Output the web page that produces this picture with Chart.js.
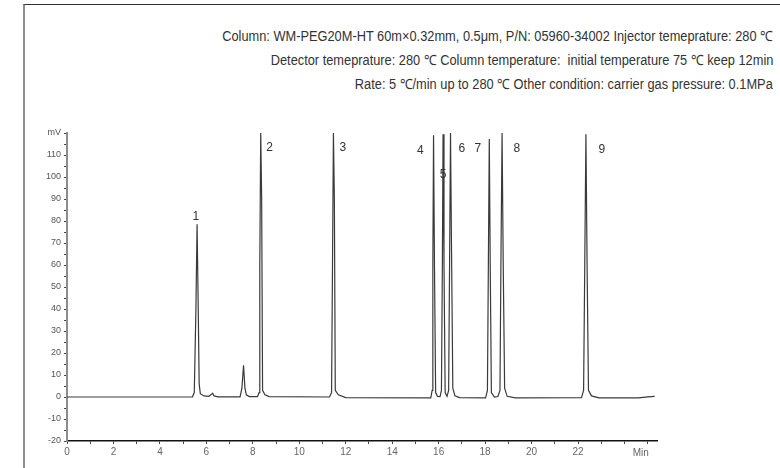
<!DOCTYPE html>
<html>
<head>
<meta charset="utf-8">
<script src="https://cdn.jsdelivr.net/npm/chart.js@4.4.1/dist/chart.umd.min.js"></script>
<style>
  html, body { margin: 0; padding: 0; background: #fff; }
  body { width: 780px; height: 468px; position: relative; overflow: hidden; }
  #frame {
    position: absolute; left: 23px; top: 4px; width: 800px; height: 500px;
    border-left: 2px solid #8c8c8c; border-top: 1px solid #333;
  }
  .cond {
    position: absolute; right: 7px; font-family: 'Liberation Sans', Arial, sans-serif;
    font-size: 14px; color: #333; white-space: nowrap; line-height: 16px;
    transform: scaleX(0.915); transform-origin: right center;
  }
  #wrap { position: absolute; left: 0; top: 0; width: 780px; height: 468px; }
</style>
</head>
<body>
<div id="frame"></div>
<div class="cond" style="top:28px">Column: WM-PEG20M-HT 60m×0.32mm, 0.5μm, P/N: 05960-34002 Injector temeprature: 280 ℃</div>
<div class="cond" style="top:52px">Detector temeprature: 280 ℃ Column temperature:&nbsp; initial temperature 75 ℃ keep 12min</div>
<div class="cond" style="top:76px">Rate: 5 ℃/min up to 280 ℃ Other condition: carrier gas pressure: 0.1MPa</div>
<div id="wrap"><canvas id="myChart" width="780" height="468"></canvas></div>
<script>
'use strict';

////// DATA //////
// retention time, min
let times = [
  0, 5.40, 5.48, 5.55, 5.60, 5.65, 5.69, 5.74, 5.90, 6.10, 6.22, 6.27, 6.33, 6.50,
  7.45, 7.53, 7.60, 7.66, 7.72, 7.85, 8.20,
  8.27, 8.30, 8.34, 8.38, 8.42, 8.52, 8.70,
  11.30, 11.39, 11.43, 11.47, 11.51, 11.55, 11.68, 12.00,
  15.66, 15.72, 15.75, 15.78, 15.82, 15.87, 15.95, 16.06,
  16.12, 16.16, 16.19, 16.23, 16.28, 16.36,
  16.43, 16.47, 16.51, 16.56, 16.61, 16.70, 16.90,
  18.02, 18.10, 18.14, 18.18, 18.22, 18.27, 18.40, 18.55,
  18.64, 18.68, 18.73, 18.78, 18.84, 18.95, 19.30,
  22.15, 22.24, 22.29, 22.34, 22.39, 22.45, 22.58, 22.90,
  24.60, 25.00, 25.30
];
// detector signal, mV
let signal = [
  0, 0.1, 2, 40, 78.5, 40, 6, 1.5, 0.5, 0.3, 1.2, 1.7, 0.5, 0.1,
  0.1, 4, 14.4, 4, 1, 0.2, 0.2,
  2, 60, 120, 90, 3, 1, 0.2,
  0, 2, 60, 120, 90, 3, 1, -0.3,
  -0.4, 3, 60, 119, 60, 2, 0.3, 0.2,
  3, 60, 119.4, 60, 2, 0.3,
  3, 60, 120, 60, 4, 0.5, -0.3,
  -0.4, 3, 60, 117.3, 60, 2, 0, 0.2,
  3, 60, 120, 60, 4, 0.3, -0.4,
  -0.3, 3, 60, 119.4, 60, 3, 0.5, -0.4,
  -0.4, 0.1, 0.3
];

// peak numbers and where they sit (min, mV)
let peakNames = ['1', '2', '3', '4', '5', '6', '7', '8', '9'];
let peakLabelX = [5.55, 8.72, 11.88, 15.21, 16.19, 17.0, 17.69, 19.37, 23.03];
let peakLabelY = [81.8, 113.4, 113.4, 112.1, 101.1, 113, 113, 113, 112.6];

let xMin = 0;
let xMax = 25.4;
let yMin = -20;
let yMax = 120;

////// PLUGINS //////
const peakLabels = {
  id: 'peakLabels',
  afterDatasetsDraw(chart) {
    const ctx = chart.ctx;
    const xs = chart.scales.x;
    const ys = chart.scales.y;
    ctx.save();
    ctx.font = '12px "Liberation Sans", Arial, sans-serif';
    ctx.fillStyle = '#333';
    ctx.textAlign = 'center';
    ctx.textBaseline = 'middle';
    for (let i = 0; i < peakNames.length; i++) {
      ctx.fillText(peakNames[i], xs.getPixelForValue(peakLabelX[i]), ys.getPixelForValue(peakLabelY[i]));
    }
    // unit on the time axis
    ctx.font = '10px "Liberation Sans", Arial, sans-serif';
    ctx.fillStyle = '#666';
    ctx.fillText('Min', xs.getPixelForValue(24.7), ys.bottom + 12);
    ctx.restore();
  }
};

////// CHART //////
let points = [];
for (let i = 0; i < times.length; i++) {
  points.push({x: times[i], y: signal[i]});
}

const ctx = document.getElementById('myChart');
const myChart = new Chart(ctx, {
  type: 'line',
  data: {
    datasets: [{
      data: points,
      borderColor: '#3a3a3a',
      borderWidth: 1.2,
      pointRadius: 0,
      tension: 0,
      fill: false
    }]
  },
  options: {
    responsive: false,
    animation: false,
    layout: {
      padding: {left: 20, right: 123, top: 133, bottom: 0}
    },
    plugins: {
      legend: {display: false},
      tooltip: {enabled: false}
    },
    scales: {
      x: {
        type: 'linear',
        min: xMin,
        max: xMax,
        afterFit(scale) { scale.height = 27; },
        border: {color: '#111', width: 1.5},
        grid: {drawOnChartArea: false, tickLength: 3, tickColor: '#444'},
        ticks: {
          stepSize: 1,
          includeBounds: false,
          autoSkip: false,
          maxRotation: 0,
          padding: 2,
          color: '#666',
          font: {size: 10, family: '"Liberation Sans", Arial, sans-serif'},
          callback: (v) => (v % 2 === 0 && v <= 22) ? v : ''
        }
      },
      y: {
        min: yMin,
        max: yMax,
        afterFit(scale) { scale.width = 47; },
        border: {color: '#8c8c8c', width: 2},
        grid: {drawOnChartArea: false, tickLength: 3, tickColor: '#444'},
        ticks: {
          stepSize: 5,
          autoSkip: false,
          padding: 3,
          color: '#555',
          font: {size: 9, family: '"Liberation Sans", Arial, sans-serif'},
          callback: (v) => v === 120 ? 'mV' : (v % 10 === 0 ? v : '')
        }
      }
    }
  },
  plugins: [peakLabels]
});
</script>
</body>
</html>
